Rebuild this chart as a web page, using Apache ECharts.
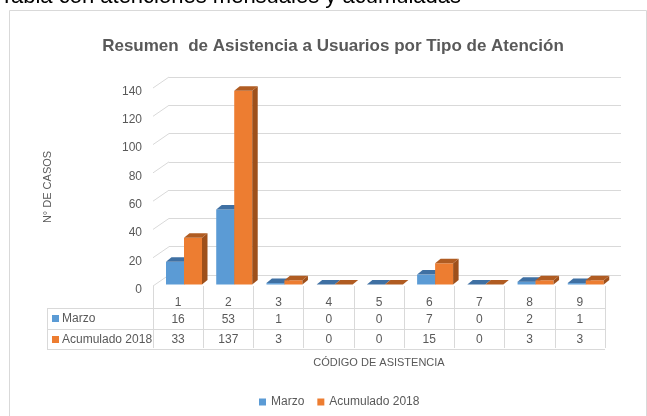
<!DOCTYPE html>
<html>
<head>
<meta charset="utf-8">
<script src="https://cdn.jsdelivr.net/npm/echarts/dist/echarts.min.js"></script>
<style>
  html, body { margin: 0; padding: 0; background: #fff; }
  #main { width: 647px; height: 416px; }
</style>
</head>
<body>
<div id="main"></div>
<script>
// datos del gráfico
var codigos = ['1', '2', '3', '4', '5', '6', '7', '8', '9'];
var marzo = [16, 53, 1, 0, 0, 7, 0, 2, 1];
var acumulado = [33, 137, 3, 0, 0, 15, 0, 3, 3];
var nombres = ['Marzo', 'Acumulado 2018'];
var yTicks = [0, 20, 40, 60, 80, 100, 120, 140];

var FONT = 'Liberation Sans, Arial, sans-serif';
var GRIS = '#595959';
var LINEA = '#d9d9d9';

// caja 3D: ancho de barra y profundidad
var BAR_W = 18;
var DX = 5.5, DY = 4.5, LIFT = 1.5;

function barra3d(offset, top, side) {
  return function (params, api) {
    var i = api.value(0), v = api.value(1);
    var band = api.size([1, 0])[0];
    var p = api.coord([i, v]);
    var b = api.coord([i, 0]);
    var x0 = p[0] - band / 2 + offset, x1 = x0 + BAR_W;
    var yt = p[1] - LIFT, yb = b[1] - LIFT;
    return {
      type: 'group',
      children: [
        {type: 'polygon', shape: {points: [[x0, yt], [x1, yt], [x1, yb], [x0, yb]]}, style: {fill: api.visual('color')}},
        {type: 'polygon', shape: {points: [[x1, yt], [x1 + DX, yt - DY], [x1 + DX, yb - DY], [x1, yb]]}, style: {fill: side}},
        {type: 'polygon', shape: {points: [[x0, yt], [x0 + DX, yt - DY], [x1 + DX, yt - DY], [x1, yt]]}, style: {fill: top}}
      ]
    };
  };
}

// lineas diagonales entre el eje y la pared del fondo
function diagonal(params, api) {
  var band = api.size([1, 0])[0];
  var p = api.coord([0, api.value(1)]);
  var x = p[0] - band / 2;
  return {
    type: 'line',
    shape: {x1: x, y1: p[1], x2: x + 16, y2: p[1] - 11},
    style: {stroke: LINEA, lineWidth: 1}
  };
}

var option = {
  animation: false,
  textStyle: {fontFamily: FONT},
  title: {
    text: 'Resumen  de Asistencia a Usuarios por Tipo de Atención',
    left: 328,
    textAlign: 'center',
    top: 33,
    textStyle: {fontSize: 17, fontWeight: 'bold', color: GRIS, fontFamily: FONT}
  },
  legend: {
    data: nombres,
    left: 254,
    top: 391,
    icon: 'rect',
    itemWidth: 7,
    itemHeight: 7,
    itemGap: 13,
    textStyle: {fontSize: 12, color: GRIS}
  },
  grid: [
    {left: 153, right: 42, top: 88, bottom: 130},   // frente
    {left: 169, right: 26, top: 77, bottom: 141}    // pared del fondo
  ],
  xAxis: [
    {
      gridIndex: 0,
      type: 'category',
      data: codigos,
      axisLine: {show: false},
      axisTick: {show: true, interval: 0, length: 62, lineStyle: {color: LINEA}},
      axisLabel: {
        interval: 0,
        margin: 10,
        formatter: function (val, i) {
          return '{h|' + val + '}\n{a|' + marzo[i] + '}\n{b|' + acumulado[i] + '}';
        },
        rich: {
          h: {fontSize: 12, color: GRIS, lineHeight: 14, fontFamily: FONT},
          a: {fontSize: 12, color: GRIS, lineHeight: 20, fontFamily: FONT},
          b: {fontSize: 12, color: GRIS, lineHeight: 20, fontFamily: FONT}
        }
      },
      name: 'CÓDIGO DE ASISTENCIA',
      nameLocation: 'middle',
      nameGap: 71,
      nameTextStyle: {fontSize: 11, color: GRIS}
    },
    {gridIndex: 1, type: 'value', show: false}
  ],
  yAxis: [
    {
      gridIndex: 0,
      type: 'value',
      min: 0,
      max: 140,
      interval: 20,
      splitLine: {show: false},
      axisLine: {show: false},
      axisTick: {show: false},
      axisLabel: {fontSize: 12, color: GRIS, margin: 11, verticalAlign: 'top', lineHeight: 7},
      name: 'N° DE CASOS',
      nameLocation: 'middle',
      nameRotate: 90,
      nameGap: 100,
      nameTextStyle: {fontSize: 11, color: GRIS}
    },
    {
      gridIndex: 1,
      type: 'value',
      min: 0,
      max: 140,
      interval: 20,
      axisLabel: {show: false},
      axisLine: {show: false},
      axisTick: {show: false},
      splitLine: {lineStyle: {color: LINEA, width: 1}}
    }
  ],
  series: [
    {
      type: 'custom',
      name: 'diagonales',
      xAxisIndex: 0,
      yAxisIndex: 0,
      silent: true,
      renderItem: diagonal,
      data: yTicks.map(function (v) { return [0, v]; })
    },
    {
      type: 'custom',
      name: nombres[0],
      xAxisIndex: 0,
      yAxisIndex: 0,
      itemStyle: {color: '#5B9BD5'},
      renderItem: barra3d(13, '#3F70A3', '#3F70A3'),
      encode: {x: 0, y: 1},
      data: marzo.map(function (v, i) { return [i, v]; })
    },
    {
      type: 'custom',
      name: nombres[1],
      xAxisIndex: 0,
      yAxisIndex: 0,
      itemStyle: {color: '#ED7D31'},
      renderItem: barra3d(13 + BAR_W, '#B05C22', '#9E501B'),
      encode: {x: 0, y: 1},
      data: acumulado.map(function (v, i) { return [i, v]; })
    }
  ],
  graphic: [
    // texto superior cortado
    {type: 'text', left: 0, top: -14, style: {text: 'Tabla con atenciones mensuales y acumuladas', font: '22px ' + FONT, fill: '#000'}},
    // borde del area del grafico
    {type: 'rect', shape: {x: 9.5, y: 10.5, width: 637, height: 420}, style: {fill: 'none', stroke: LINEA, lineWidth: 1}},
    // tabla de datos
    {type: 'line', shape: {x1: 47, y1: 308.5, x2: 605, y2: 308.5}, style: {stroke: LINEA}},
    {type: 'line', shape: {x1: 47, y1: 329.5, x2: 605, y2: 329.5}, style: {stroke: LINEA}},
    {type: 'line', shape: {x1: 47, y1: 349.5, x2: 605, y2: 349.5}, style: {stroke: LINEA}},
    {type: 'line', shape: {x1: 47.5, y1: 308.5, x2: 47.5, y2: 349.5}, style: {stroke: LINEA}},
    {type: 'rect', shape: {x: 52, y: 315, width: 7, height: 7}, style: {fill: '#5B9BD5'}},
    {type: 'text', x: 62, y: 319, style: {text: nombres[0], font: '12px ' + FONT, fill: GRIS, verticalAlign: 'middle'}},
    {type: 'rect', shape: {x: 52, y: 336, width: 7, height: 7}, style: {fill: '#ED7D31'}},
    {type: 'text', x: 62, y: 339.5, style: {text: nombres[1], font: '12px ' + FONT, fill: GRIS, verticalAlign: 'middle'}}
  ]
};

var myChart = echarts.init(document.getElementById('main'));
myChart.setOption(option);
</script>
</body>
</html>
